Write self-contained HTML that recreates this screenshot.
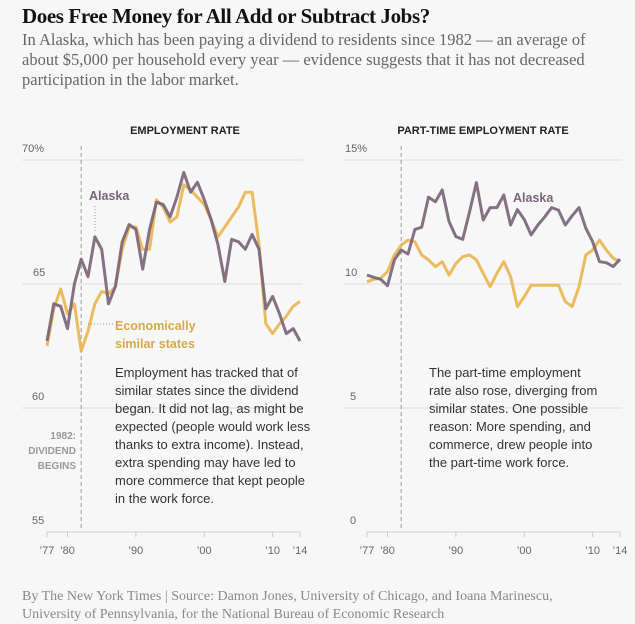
<!DOCTYPE html>
<html><head><meta charset="utf-8">
<style>
html,body{margin:0;padding:0;background:#f7f7f7;}
body{width:635px;height:622px;position:relative;overflow:hidden;font-family:"Liberation Sans",sans-serif;}
.t{position:absolute;margin:0;white-space:nowrap;}
#title{left:22px;top:4px;font:bold 21px "Liberation Serif",serif;color:#121212;letter-spacing:-0.4px;}
#sub{left:22px;top:30px;font:16.5px/20px "Liberation Serif",serif;color:#666;}
.note{font:13px/18px "Liberation Sans",sans-serif;color:#333;}
#foot{left:22px;top:588px;font:14px/18px "Liberation Serif",serif;color:#888;}
</style></head>
<body>
<div class="t" id="title">Does Free Money for All Add or Subtract Jobs?</div>
<div class="t" id="sub">In Alaska, which has been paying a dividend to residents since 1982 — an average of<br>about $5,000 per household every year — evidence suggests that it has not decreased<br>participation in the labor market.</div>
<svg id="svg" width="635" height="622" style="position:absolute;left:0;top:0"></svg>
<div class="t note" style="left:115px;top:364px">Employment has tracked that of<br>similar states since the dividend<br>began. It did not lag, as might be<br>expected (people would work less<br>thanks to extra income). Instead,<br>extra spending may have led to<br>more commerce that kept people<br>in the work force.</div>
<div class="t note" style="left:429px;top:364px">The part-time employment<br>rate also rose, diverging from<br>similar states. One possible<br>reason: More spending, and<br>commerce, drew people into<br>the part-time work force.</div>
<div class="t" id="foot">By The New York Times | Source: Damon Jones, University of Chicago, and Ioana Marinescu,<br>University of Pennsylvania, for the National Bureau of Economic Research</div>
<script>
const years = [1977,1978,1979,1980,1981,1982,1983,1984,1985,1986,1987,1988,1989,1990,1991,1992,1993,1994,1995,1996,1997,1998,1999,2000,2001,2002,2003,2004,2005,2006,2007,2008,2009,2010,2011,2012,2013,2014];
const empAlaska = [62.7,64.2,64.1,63.2,65.0,66.0,65.3,66.9,66.4,64.2,64.9,66.7,67.4,67.2,65.6,67.2,68.3,68.2,67.7,68.5,69.5,68.7,69.1,68.4,67.6,66.6,65.1,66.8,66.7,66.4,67.0,66.4,64.0,64.5,63.8,63.0,63.2,62.7];
const empSimilar = [62.5,64.0,64.8,63.8,64.2,62.3,63.1,64.2,64.7,64.6,64.9,66.4,67.3,67.3,66.4,66.4,68.4,68.1,67.5,67.7,69.0,68.8,68.5,68.2,67.6,66.9,67.3,67.7,68.1,68.7,68.7,66.6,63.4,63.0,63.4,63.7,64.1,64.3];
const ptAlaska = [10.36,10.27,10.19,9.93,10.97,11.37,11.21,12.2,12.29,13.5,13.32,13.79,12.51,11.91,11.8,12.92,14.09,12.58,13.08,13.08,13.59,12.38,13.0,12.6,11.98,12.38,12.71,13.08,12.98,12.38,12.75,13.08,12.25,11.71,10.9,10.86,10.7,11.0];
const ptSimilar = [10.09,10.19,10.23,10.5,11.17,11.57,11.77,11.7,11.17,10.97,10.7,10.9,10.36,10.83,11.1,11.17,10.97,10.43,9.89,10.43,10.9,10.3,9.09,9.49,9.95,9.95,9.95,9.95,9.95,9.29,9.09,9.89,11.17,11.37,11.77,11.37,11.04,10.9];
const empTicks = [70,65,60,55];
const empTickLabels = ["70%","65","60","55"];
const ptTicks = [15,10,5,0];
const ptTickLabels = ["15%","10","5","0"];
const xTickYears = [1977,1980,1990,2000,2010,2014];
const xTickLabels = ["’77","’80","’90","’00","’10","’14"];

const NS="http://www.w3.org/2000/svg";
const svg=document.getElementById('svg');
function mk(tag,attrs,parent){const e=document.createElementNS(NS,tag);for(const k in attrs)e.setAttribute(k,attrs[k]);(parent||svg).appendChild(e);return e;}
const PURPLE="#7b6579", GOLD="#e9b552";

function chart(cfg){
  const g=mk('g',{});
  
  
  const x=y=>cfg.x0+(y-1977)*(cfg.x1-cfg.x0)/(2014-1977);
  const yv=v=>cfg.yTop+(cfg.vTop-v)*24.8;
  const tt=mk('text',{x:cfg.titleX,y:134,'text-anchor':'middle','font-family':'Liberation Sans, sans-serif','font-weight':'bold','font-size':'11',fill:'#222'},g);
  tt.textContent=cfg.title;
  
  
  cfg.ticks.forEach((t,i)=>{
    const yy=yv(t);
    if(i<cfg.ticks.length-1){
      const l=mk('line',{x1:cfg.gx0,x2:cfg.gx1,y1:yy,y2:yy,stroke:'#dcdcdc','stroke-width':1},g);
      
      
    }
    const lb=mk('text',{x:cfg.labX[i],y:yy-8,'font-family':'Liberation Sans, sans-serif','font-size':'11',fill:'#666'},g);
    lb.textContent=cfg.tickLabels[i];
    
    
  });
  const d=mk('line',{x1:x(1982),x2:x(1982),y1:146,y2:530,stroke:'#999','stroke-width':1,'stroke-dasharray':'4,3'},g);
  
  
  const ax=mk('line',{x1:x(1977),x2:x(2014),y1:532,y2:532,stroke:'#ccc','stroke-width':1},g);
  
  
  xTickYears.forEach((yr,i)=>{
    const tk=mk('line',{x1:x(yr),x2:x(yr),y1:532,y2:537,stroke:'#ccc'},g);
    
    
    const tl=mk('text',{x:x(yr),y:554,'text-anchor':'middle','font-family':'Liberation Sans, sans-serif','font-size':'11',fill:'#666'},g);
    tl.textContent=xTickLabels[i];
    
    
  });
  [[cfg.sim,GOLD,'similar-states-line'],[cfg.ak,PURPLE,'alaska-line']].forEach(([arr,c,n])=>{
    const pts=arr.map((v,i)=>x(years[i]).toFixed(1)+','+yv(v).toFixed(1)).join(' ');
    const p=mk('polyline',{points:pts,fill:'none',stroke:c,'stroke-width':3,'stroke-linejoin':'round','stroke-opacity':0.92},g);
    
    
  });
  return g;
}
chart({name:'employment-chart',title:'EMPLOYMENT RATE',titleX:185,x0:47,x1:300,gx0:22,gx1:303,yTop:160,vTop:70,ticks:empTicks,tickLabels:empTickLabels,labX:[22,33,32,32],ak:empAlaska,sim:empSimilar});
chart({name:'part-time-chart',title:'PART-TIME EMPLOYMENT RATE',titleX:483,x0:367,x1:620,gx0:344,gx1:622,yTop:160,vTop:15,ticks:ptTicks,tickLabels:ptTickLabels,labX:[345,345,350,350],ak:ptAlaska,sim:ptSimilar});

function label(txt,x,y,attrs,name){const t=mk('text',Object.assign({x:x,y:y,'font-family':'Liberation Sans, sans-serif'},attrs));t.textContent=txt;return t;}
label('Alaska',89,200,{'font-weight':'bold','font-size':'12.5',fill:PURPLE},'alaska-label-left');
label('Alaska',513,202,{'font-weight':'bold','font-size':'12.5',fill:PURPLE},'alaska-label-right');
label('Economically',115,330,{'font-weight':'bold','font-size':'12.5',fill:'#d9a84a'},'similar-states-label');
label('similar states',115,348,{'font-weight':'bold','font-size':'12.5',fill:'#d9a84a'},'similar-states-label-2');
const l1=mk('line',{x1:95,x2:95,y1:206,y2:232,stroke:'#999','stroke-dasharray':'1,2'});


const l2=mk('line',{x1:88,x2:113,y1:324,y2:324,stroke:'#999','stroke-dasharray':'1,2'});


label('1982:',76,439,{'font-weight':'bold','font-size':'10',fill:'#999','text-anchor':'end'},'dividend-label-1');
label('DIVIDEND',76,454,{'font-weight':'bold','font-size':'10',fill:'#999','text-anchor':'end'},'dividend-label-2');
label('BEGINS',76,469,{'font-weight':'bold','font-size':'10',fill:'#999','text-anchor':'end'},'dividend-label-3');
</script>
</body></html>
